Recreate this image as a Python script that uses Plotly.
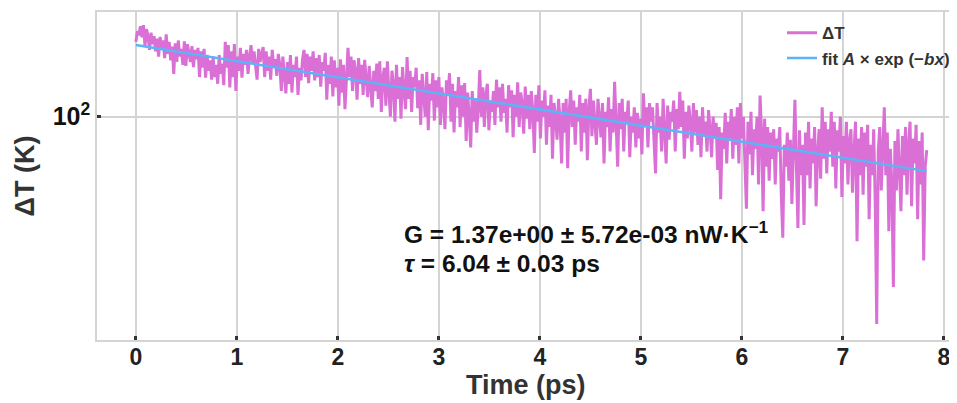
import numpy as np
import plotly.graph_objects as go

# Sampling of the measured trace (ps)
t_start, t_step, n_pts = 0.0, 0.015, 523
time_ps = np.round(t_start + t_step * np.arange(n_pts), 4)

# Temperature difference ΔT (K) (rows of 0.3 ps)
delta_T = [
    215, 240, 230, 252, 225, 255, 205, 245, 228, 198, 236, 210, 228, 195, 222, 185, 226, 200, 218, 182,
    232, 190, 215, 178, 205, 155, 212, 175, 218, 185, 200, 170, 216, 168, 210, 190, 175, 206, 166, 198,
    180, 202, 150, 195, 165, 200, 149, 188, 160, 178, 146, 185, 150, 170, 140, 188, 155, 172, 138, 215,
    165, 208, 135, 195, 150, 210, 130, 185, 160, 202, 149, 190, 170, 198, 155, 185, 208, 172, 195, 168,
    146, 200, 175, 190, 204, 150, 195, 160, 185, 146, 198, 165, 180, 152, 190, 170, 130, 185, 150, 127,
    175, 140, 188, 128, 170, 150, 185, 125, 165, 145, 180, 198, 150, 190, 141, 185, 160, 195, 145, 182,
    150, 188, 136, 175, 160, 192, 119, 170, 140, 185, 123, 178, 135, 165, 112, 180, 128, 170, 108, 160,
    202, 150, 185, 130, 178, 160, 119, 182, 140, 170, 125, 179, 150, 122, 168, 138, 110, 160, 130, 172,
    120, 176, 105, 150, 165, 112, 176, 130, 100, 160, 140, 95, 170, 120, 150, 98, 166, 130, 108, 184,
    120, 160, 105, 150, 135, 165, 109, 145, 92, 155, 125, 100, 158, 87, 140, 118, 156, 96, 145, 110,
    150, 92, 135, 115, 88, 145, 125, 156, 95, 140, 85, 130, 110, 150, 90, 138, 100, 141, 78, 128,
    100, 73, 130, 95, 120, 85, 110, 161, 100, 135, 90, 125, 140, 87, 118, 105, 130, 92, 146, 110,
    135, 95, 140, 104, 120, 85, 138, 110, 131, 81, 125, 100, 142, 90, 128, 115, 84, 136, 98, 125,
    88, 130, 105, 69, 125, 95, 138, 80, 118, 100, 131, 75, 112, 90, 125, 65, 115, 100, 79, 120,
    95, 62, 115, 85, 120, 59, 105, 131, 90, 118, 75, 110, 95, 125, 70, 115, 85, 120, 64, 108,
    133, 82, 118, 95, 75, 120, 100, 81, 115, 62, 105, 90, 122, 70, 108, 85, 143, 95, 60, 115,
    88, 120, 70, 105, 95, 118, 66, 100, 85, 110, 73, 104, 80, 98, 68, 127, 90, 110, 73, 115,
    95, 110, 80, 56, 115, 85, 100, 70, 120, 90, 62, 112, 79, 105, 95, 118, 70, 108, 88, 129,
    90, 118, 65, 105, 80, 112, 95, 70, 115, 85, 107, 75, 100, 66, 110, 82, 95, 70, 107, 88,
    66, 100, 80, 94, 58, 90, 43, 85, 72, 104, 62, 95, 80, 108, 65, 100, 75, 110, 62, 115,
    80, 100, 60, 39, 95, 68, 105, 55, 88, 72, 100, 50, 124, 85, 38, 98, 60, 90, 52, 85,
    65, 88, 50, 80, 70, 90, 45, 29, 75, 60, 85, 52, 79, 41, 70, 119, 60, 32, 87, 55,
    75, 33, 85, 55, 95, 48, 80, 62, 90, 40, 70, 88, 53, 110, 65, 95, 56, 88, 70, 105,
    60, 95, 48, 87, 70, 100, 44, 82, 62, 95, 50, 78, 88, 46, 70, 95, 28, 80, 55, 90,
    45, 85, 60, 92, 35, 75, 55, 88, 42, 12, 70, 90, 47, 80, 110, 55, 85, 31, 72, 50,
    17.5, 78, 47, 88, 60, 38, 82, 55, 90, 45, 75, 95, 40, 80, 62, 92, 35, 78, 50, 85,
    23, 60, 71,
]

# Fit line end points A*exp(-b x) (straight on a log axis)
fit_t = [0.0, 7.83]
fit_T = [208.0, 57.3]

x_ticks = [0, 1, 2, 3, 4, 5, 6, 7, 8]
y_ticks = [100]
y_tick_text = ["10<sup>2</sup>"]

FONT = "Liberation Sans, Arial, Helvetica, sans-serif"

fig = go.Figure()
fig.add_trace(go.Scatter(
    x=time_ps, y=delta_T, mode="lines", name="ΔT",
    line=dict(color="#DA70D6", width=3),
))
fig.add_trace(go.Scatter(
    x=fit_t, y=fit_T, mode="lines", name="fit <i>A</i> × exp (−<i>bx</i>)",
    line=dict(color="#5CB3F7", width=2.5),
))

fig.add_annotation(
    x=2.637, y=np.log10(30.5), xref="x", yref="y", showarrow=False,
    text="G = 1.37e+00 ± 5.72e-03 nW·K<sup>−1</sup>",
    xanchor="left", yanchor="middle",
    font=dict(family=FONT, size=24.5, color="#111", weight="bold"),
)
fig.add_annotation(
    x=2.637, y=np.log10(22.2), xref="x", yref="y", showarrow=False,
    text="<i>τ</i> = 6.04 ± 0.03 ps",
    xanchor="left", yanchor="middle",
    font=dict(family=FONT, size=24.5, color="#111", weight="bold"),
)
# x-axis title placed just under the tick labels
fig.add_annotation(
    x=0.5, y=-0.136, xref="paper", yref="paper", showarrow=False,
    text="Time (ps)", xanchor="center", yanchor="middle",
    font=dict(family=FONT, size=27, color="#333", weight="bold"),
)

fig.update_layout(
    width=949, height=395,
    margin=dict(l=89, r=0, t=4, b=63),
    paper_bgcolor="white", plot_bgcolor="white",
    font=dict(family=FONT, color="#222", weight="bold"),
    showlegend=True,
    legend=dict(
        x=1.0, y=0.99, xanchor="right", yanchor="top",
        bgcolor="rgba(255,255,255,0)", borderwidth=0,
        font=dict(family=FONT, size=17, color="#333", weight="bold"),
        itemwidth=30,
    ),
    xaxis=dict(
        range=[-0.385, 8.11], tickvals=x_ticks,
        ticks="inside", ticklen=4, tickwidth=3, tickcolor="#333",
        showgrid=True, gridcolor="#d4d4d4", gridwidth=1.5,
        showline=True, linecolor="#d4d4d4", linewidth=1.5, mirror=True,
        zeroline=False, ticklabelstandoff=-4,
        tickfont=dict(family=FONT, size=23, color="#222", weight="bold"),
    ),
    yaxis=dict(
        type="log", range=[1.008, 2.465], tickvals=y_ticks, ticktext=y_tick_text,
        ticks="inside", ticklen=4, tickwidth=3, tickcolor="#333",
        showgrid=True, gridcolor="#d4d4d4", gridwidth=1.5,
        showline=True, linecolor="#d4d4d4", linewidth=1.5, mirror=True,
        zeroline=False,
        tickfont=dict(family=FONT, size=25, color="#111", weight="bold"),
        title=dict(text="ΔT (K)", font=dict(family=FONT, size=27, color="#333", weight="bold"), standoff=10),
    ),
)

fig.write_html("out.html")
